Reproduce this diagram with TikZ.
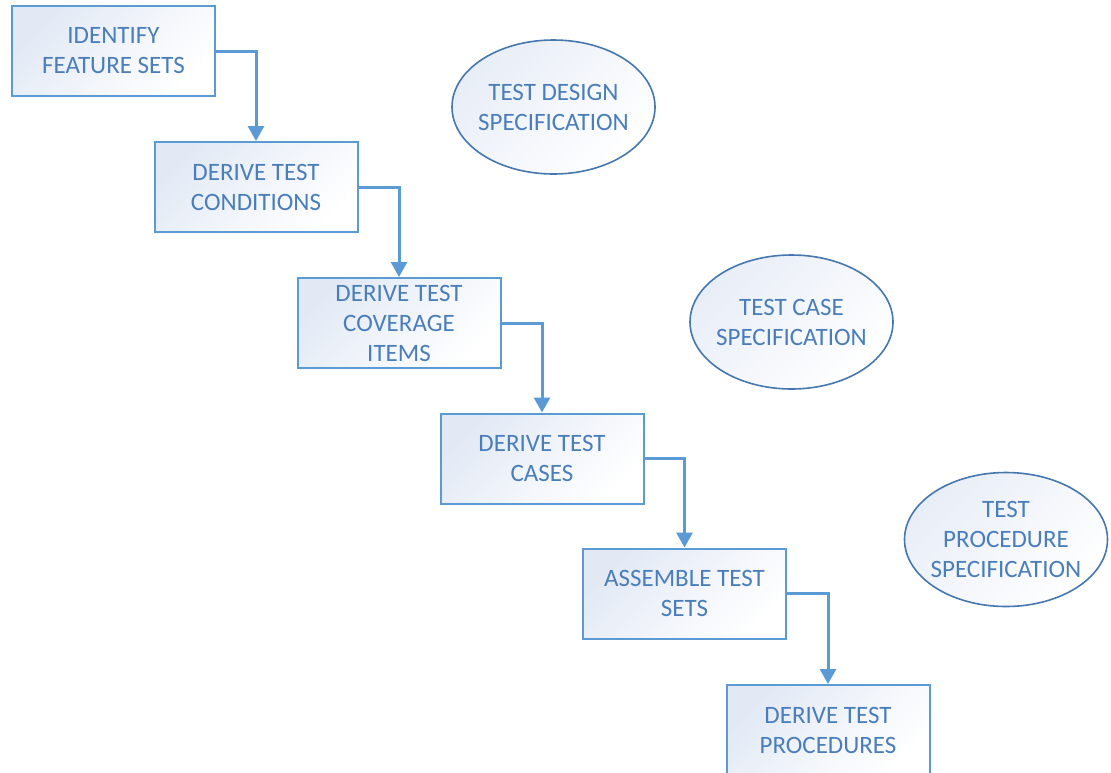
\documentclass[tikz,border=0pt]{standalone}
\usepackage{fontspec}
\setmainfont{Carlito}
\usetikzlibrary{arrows.meta,shapes.geometric}
\definecolor{edgeblue}{RGB}{91,155,213}
\definecolor{ovalblue}{RGB}{70,120,175}
\definecolor{textblue}{RGB}{74,126,187}
\definecolor{tint}{RGB}{226,233,245}
\tikzset{
  caption/.style={align=center, text=textblue, font=\fontsize{25}{30}\selectfont, inner sep=0pt},
  stepbox/.style={caption, draw=edgeblue, line width=2pt, left color=tint, right color=white,
    shading angle=45, minimum width=203pt, minimum height=90pt},
  docoval/.style={ellipse, draw=ovalblue, line width=1.6pt, left color=tint!80, right color=white,
    shading angle=45, minimum width=203pt, minimum height=134pt, inner sep=0pt},
  flow/.style={draw=edgeblue, line width=3pt, -{Triangle[width=16pt,length=15pt]}}
}
\begin{document}
\begin{tikzpicture}[x=1pt,y=-1pt]
\useasboundingbox (0,0) rectangle (1111,772);
\clip (0,0) rectangle (1111,772);
\fill[white] (0,0) rectangle (1111,772);

% process steps
\node[stepbox] (s1) at (113.5,51) {IDENTIFY\\FEATURE SETS};
\node[stepbox] (s2) at (256,187) {DERIVE TEST\\CONDITIONS};
\node[stepbox] (s3) at (399,323) {DERIVE TEST\\COVERAGE\\ITEMS};
\node[stepbox] (s4) at (542,458.5) {DERIVE TEST\\CASES};
\node[stepbox] (s5) at (684.5,593.5) {ASSEMBLE TEST\\SETS};
\node[stepbox] (s6) at (828,730) {DERIVE TEST\\PROCEDURES};

% output documents
\node[docoval, label={[caption]center:TEST DESIGN\\SPECIFICATION}] (d1) at (553.5,107) {};
\node[docoval, label={[caption]center:TEST CASE\\SPECIFICATION}] (d2) at (791.5,322) {};
\node[docoval, label={[caption]center:TEST\\PROCEDURE\\SPECIFICATION}] (d3) at (1006,539.5) {};

% flow between steps
\draw[flow] (s1.east) -| (s2.north);
\draw[flow] (s2.east) -| (s3.north);
\draw[flow] (s3.east) -| (s4.north);
\draw[flow] (s4.east) -| (s5.north);
\draw[flow] (s5.east) -| (s6.north);
\end{tikzpicture}
\end{document}
